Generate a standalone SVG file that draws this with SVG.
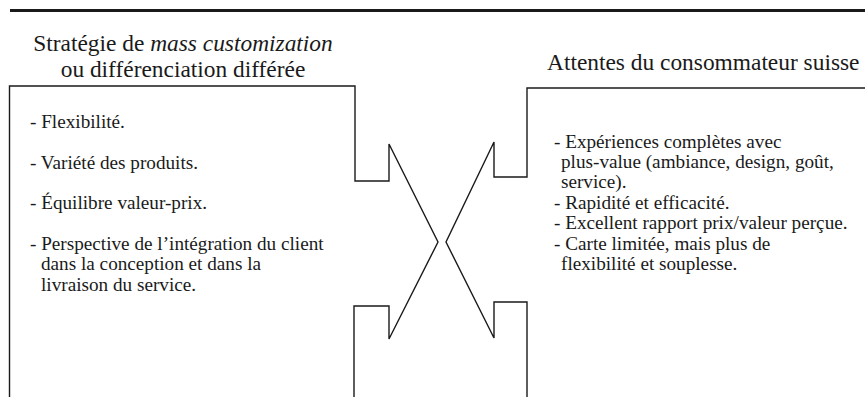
<svg xmlns="http://www.w3.org/2000/svg" width="865" height="397" viewBox="0 0 865 397">
<style>
.t{font-family:'Liberation Serif','Times New Roman',serif;fill:#1a1a1a}
.h{font-size:23.4px}
.b{font-size:19.2px}
.o{fill:none;stroke:#1a1a1a;stroke-width:1.4;stroke-linejoin:miter}
</style>
<rect x="0" y="0" width="865" height="397" fill="#ffffff"/>
<line x1="10" y1="10.5" x2="865" y2="10.5" stroke="#1a1a1a" stroke-width="3"/>
<g id="left-node">
<text class="t h" x="183" y="51" text-anchor="middle">Stratégie de <tspan font-style="italic">mass customization</tspan></text>
<text class="t h" x="183" y="77" text-anchor="middle">ou différenciation différée</text>
<text class="t b" x="30" y="128">- Flexibilité.</text>
<text class="t b" x="30" y="169">- Variété des produits.</text>
<text class="t b" x="30" y="209">- Équilibre valeur-prix.</text>
<text class="t b" x="30" y="250">- Perspective de l’intégration du client</text>
<text class="t b" x="41" y="270">dans la conception et dans la</text>
<text class="t b" x="41" y="291">livraison du service.</text>
</g>
<g id="right-node">
<text class="t h" x="547" y="70">Attentes du consommateur suisse</text>
<text class="t b" x="554" y="148">- Expériences complètes avec</text>
<text class="t b" x="561" y="168">plus-value (ambiance, design, goût,</text>
<text class="t b" x="561" y="188">service).</text>
<text class="t b" x="554" y="209">- Rapidité et efficacité.</text>
<text class="t b" x="554" y="229">- Excellent rapport prix/valeur perçue.</text>
<text class="t b" x="554" y="250">- Carte limitée, mais plus de</text>
<text class="t b" x="561" y="270">flexibilité et souplesse.</text>
</g>
<g id="connectors">
<polyline class="o" points="9.5,397 9.5,86 355,86 355,181 389,181 389,144 438,242 389,339 389,306 354,306 354,397"/>
<polyline class="o" points="865,88 527,88 527,177 494,177 494,142 446,242 494,338 494,302 527,302 527,397"/>
</g>
</svg>
